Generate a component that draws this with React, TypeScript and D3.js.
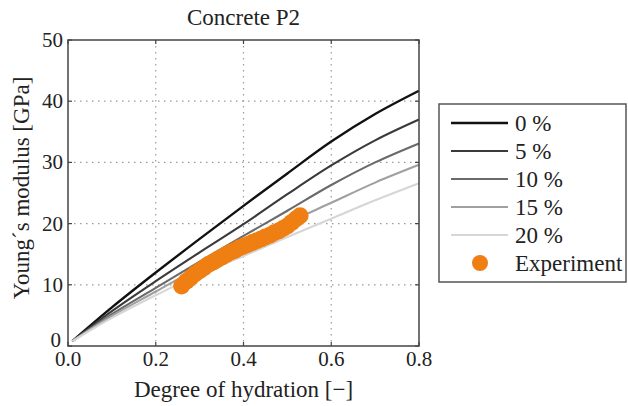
import React from "react";
import * as d3 from "d3";

const hydration = [0.01, 0.1, 0.2, 0.3, 0.4, 0.5, 0.6, 0.7, 0.8];
const modulus0 = [0.8, 6.3, 12.0, 17.5, 22.9, 28.2, 33.4, 37.9, 41.7];
const modulus5 = [0.8, 5.7, 10.6, 15.3, 19.9, 24.8, 29.5, 33.6, 37.0];
const modulus10 = [0.8, 5.2, 9.5, 13.8, 18.0, 22.1, 26.3, 30.0, 33.1];
const modulus15 = [0.8, 4.9, 8.9, 12.9, 16.6, 20.1, 23.4, 26.7, 29.6];
const modulus20 = [0.8, 4.6, 8.3, 11.7, 14.7, 17.8, 20.8, 23.8, 26.6];
const seriesLabels = ["0 %", "5 %", "10 %", "15 %", "20 %"];
const seriesColors = ["#111111", "#3a3a3a", "#6a6a6a", "#a0a0a0", "#d6d6d6"];

const expHydration = [0.259, 0.27, 0.28, 0.29, 0.3, 0.31, 0.32, 0.33, 0.34, 0.35, 0.36, 0.37, 0.38, 0.39, 0.4, 0.41, 0.42, 0.43, 0.44, 0.45, 0.46, 0.47, 0.48, 0.49, 0.5, 0.51, 0.52, 0.529];
const expModulus = [9.8, 10.6, 11.2, 11.8, 12.3, 12.8, 13.3, 13.7, 14.1, 14.5, 14.9, 15.3, 15.6, 16.0, 16.3, 16.6, 16.9, 17.2, 17.5, 17.8, 18.1, 18.5, 18.8, 19.2, 19.6, 20.2, 20.8, 21.3];

const xTicks = [0, 0.2, 0.4, 0.6, 0.8];
const yTicks = [0, 10, 20, 30, 40, 50];

export default function App() {
  const W = 628, H = 406;
  const m = { left: 68, right: 419, top: 40, bottom: 346 };
  const x = d3.scaleLinear().domain([0, 0.8]).range([m.left, m.right]);
  const y = d3.scaleLinear().domain([0, 50]).range([m.bottom, m.top]);
  const series = [modulus0, modulus5, modulus10, modulus15, modulus20];
  const line = d3
    .line<number>()
    .x((_, i) => x(hydration[i]))
    .y((d) => y(d))
    .curve(d3.curveCatmullRom.alpha(0.5));
  const font = "'Liberation Serif', 'Times New Roman', serif";
  const orange = "#ef7f12";
  const legendRows = [123, 151, 179, 207, 235, 263];

  return (
    <svg width={W} height={H} style={{ position: "absolute", left: 0, top: 0, background: "#fff" }} fontFamily={font}>
      <rect x={0} y={0} width={W} height={H} fill="#fff" />
      {xTicks.slice(1, -1).map((t) => (
        <line key={"gx" + t} x1={x(t)} x2={x(t)} y1={m.top} y2={m.bottom} stroke="#9a9a9a" strokeWidth={1.2} strokeDasharray="1.5 4.5" />
      ))}
      {yTicks.slice(1, -1).map((t) => (
        <line key={"gy" + t} x1={m.left} x2={m.right} y1={y(t)} y2={y(t)} stroke="#9a9a9a" strokeWidth={1.2} strokeDasharray="1.5 4.5" />
      ))}
      {xTicks.map((t) => (
        <g key={"tx" + t}>
          <line x1={x(t)} x2={x(t)} y1={m.bottom} y2={m.bottom - 4} stroke="#444" strokeWidth={1.2} />
          <line x1={x(t)} x2={x(t)} y1={m.top} y2={m.top + 4} stroke="#444" strokeWidth={1.2} />
          <text x={x(t)} y={m.bottom + 20} textAnchor="middle" fontSize={21} fill="#222">{t.toFixed(1)}</text>
        </g>
      ))}
      {yTicks.map((t) => (
        <g key={"ty" + t}>
          <line x1={m.left} x2={m.left + 4} y1={y(t)} y2={y(t)} stroke="#444" strokeWidth={1.2} />
          <line x1={m.right} x2={m.right - 4} y1={y(t)} y2={y(t)} stroke="#444" strokeWidth={1.2} />
          <text x={m.left - (t === 0 ? 7 : 5)} y={y(t) + (t === 0 ? 1 : 7)} textAnchor="end" fontSize={21} fill="#222">{t}</text>
        </g>
      ))}
      {series.map((s, i) => (
        <path key={"s" + i} d={line(s) || ""} fill="none" stroke={seriesColors[i]} strokeWidth={i === 0 ? 2.4 : 2.1} />
      ))}
      {expHydration.map((h, i) => (
        <circle key={"e" + i} cx={x(h)} cy={y(expModulus[i])} r={8.5} fill={orange} />
      ))}
      <rect x={m.left} y={m.top} width={m.right - m.left} height={m.bottom - m.top} fill="none" stroke="#444" strokeWidth={1.5} />
      <text x={(m.left + m.right) / 2} y={25} textAnchor="middle" fontSize={23} fill="#222">Concrete P2</text>
      <text x={(m.left + m.right) / 2} y={397} textAnchor="middle" fontSize={23} fill="#222">Degree of hydration [−]</text>
      <text transform={`translate(29, ${(m.top + m.bottom) / 2 - 5}) rotate(-90)`} textAnchor="middle" fontSize={23} fill="#222">Young´s modulus [GPa]</text>
      <rect x={439} y={104} width={187} height={178} fill="#fff" stroke="#555" strokeWidth={1.5} />
      {seriesLabels.map((lab, i) => (
        <g key={"l" + i}>
          <line x1={451} x2={508} y1={legendRows[i]} y2={legendRows[i]} stroke={seriesColors[i]} strokeWidth={i === 0 ? 2.4 : 2.1} />
          <text x={515} y={legendRows[i] + 8} fontSize={23} fill="#222">{lab}</text>
        </g>
      ))}
      <circle cx={480} cy={legendRows[5]} r={8} fill={orange} />
      <text x={515} y={legendRows[5] + 8} fontSize={23} fill="#222">Experiment</text>
    </svg>
  );
}
